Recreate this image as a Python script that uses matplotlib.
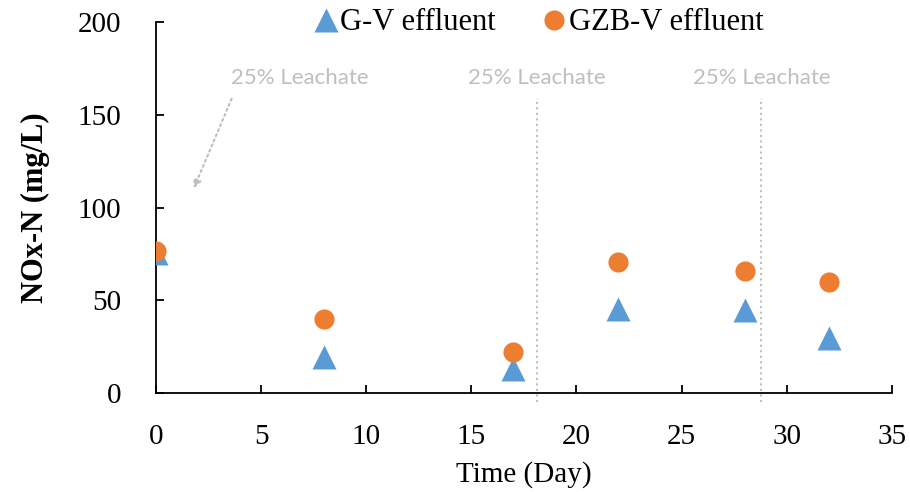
import matplotlib

matplotlib.use("Agg")

import matplotlib.pyplot as plt  # noqa: E402

# data
days = [0, 8, 17, 22, 28, 32]
gv_effluent = [75.5, 19.2, 12.8, 45.2, 44.5, 29.7]
gzbv_effluent = [76.7, 39.7, 21.9, 70.6, 65.8, 60.0]
leachate_days = [18.1, 28.8]
leachate_label = "25% Leachate"
x_ticks = [0, 5, 10, 15, 20, 25, 30, 35]
y_ticks = [0, 50, 100, 150, 200]

BLUE = "#5B9BD5"
ORANGE = "#ED7D31"
GREY = "#BFBFBF"
SERIF = ["Liberation Serif", "DejaVu Serif"]
SANS = ["Lato", "DejaVu Sans"]

fig = plt.figure(figsize=(9.1, 4.92), dpi=100)
ax = fig.add_axes([0.1714, 0.2012, 0.8086, 0.7541])

ax.plot(days, gv_effluent, ls="none", marker="^", ms=17, color=BLUE,
        mec="none", label="G-V effluent", zorder=3)
ax.plot(days, gzbv_effluent, ls="none", marker="o", ms=14.5, color=ORANGE,
        mec="none", label="GZB-V effluent", zorder=4)

ax.set_xlim(0, 35)
ax.set_ylim(0, 200)
ax.set_xticks(x_ticks)
ax.set_yticks(y_ticks)
ax.tick_params(direction="in", length=6, width=1.3, labelsize=21)
ax.tick_params(axis="x", pad=22)
ax.tick_params(axis="y", pad=25)
for lab in ax.get_xticklabels() + ax.get_yticklabels():
    lab.set_family(SERIF)

for side in ("top", "right"):
    ax.spines[side].set_visible(False)
for side in ("left", "bottom"):
    ax.spines[side].set_linewidth(1.3)

ax.set_xlabel("Time (Day)", fontsize=21, family=SERIF, labelpad=8)
ax.set_ylabel("NOx-N (mg/L)", fontsize=22, family=SERIF, fontweight="bold",
              labelpad=20)

# leachate markers: dotted lines with labels
for d in leachate_days:
    ax.plot([d, d], [-5, 159], ls=":", lw=1.5, color=GREY, clip_on=False,
            zorder=1)
    ax.text(d, 170, leachate_label, ha="center", va="center", fontsize=16,
            color=GREY, family=SANS)

ax.annotate("", xy=(1.75, 109), xytext=(3.65, 160),
            arrowprops=dict(arrowstyle="-|>", ls=":", lw=1.5, color=GREY,
                            mutation_scale=12))
ax.text(6.85, 170, leachate_label, ha="center", va="center", fontsize=16,
        color=GREY, family=SANS)

fig.legend(loc="center", bbox_to_anchor=(537 / 910, 1 - 23 / 492), ncol=2,
           frameon=False, prop={"family": SERIF, "size": 22},
           handletextpad=-0.02, columnspacing=1.4, handlelength=1.0,
           borderpad=0)

fig.savefig("out.png", dpi=100)
plt.close(fig)
